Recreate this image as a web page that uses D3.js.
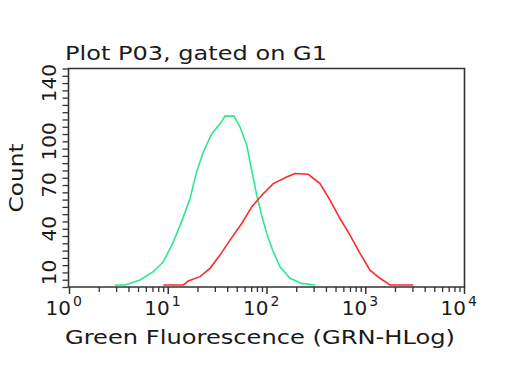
<!DOCTYPE html>
<html><head><meta charset="utf-8">
<script src="https://cdn.jsdelivr.net/npm/d3@7"></script>
<style>
body{margin:0;background:#fff;}
text{font-family:"DejaVu Sans",Verdana,sans-serif;fill:#1a1a1a;}
</style></head>
<body><svg id="c" width="512" height="384"></svg>
<script>
const title = "Plot P03, gated on G1";
const xLabel = "Green Fluorescence (GRN-HLog)";
const yLabel = "Count";
const xMajorTicks = [1, 10, 100, 1000, 10000];
const xTickExponents = ["0", "1", "2", "3", "4"];
const yTickLabels = [10, 40, 70, 100, 140];

const greenX = [2.92, 3.69, 5.24, 7.14, 9.02, 11.4, 13.8, 16.8, 19.6, 22.9, 27.9, 33.8, 38.0, 46.9, 54.0, 63.1, 70.9, 79.6, 89.4, 100.5, 117, 137, 173, 227, 310];
const greenY = [1.4, 1.4, 4.8, 10.5, 17.3, 31, 44.7, 60.7, 79, 92.7, 105.3, 112, 117.3, 117.3, 109.8, 97.3, 80.1, 63, 49.3, 36.8, 24.2, 13.9, 6, 2.5, 1.4];
const redX = [9.02, 14.4, 16.1, 21.2, 26.8, 33.8, 42.7, 56.1, 70.9, 89.4, 117, 160, 194, 265, 348, 440, 555, 701, 885, 1117, 1409, 1782, 3069];
const redY = [1.4, 1.4, 4.1, 7.1, 12.8, 21.9, 32.2, 43.6, 55, 63, 71, 75.5, 77.9, 77.4, 71, 59.6, 47, 35.6, 23.1, 11.6, 6, 1.4, 1.4];

const svg = d3.select("#c");
const L = 68.5, R = 464.5, T = 68.5, B = 287;
const x = d3.scaleLog().domain([1, 1e4]).range([69, 464]);
const y = d3.scaleLinear().domain([0, 150]).range([B, T]);

// minor x ticks
const minor = [];
for (let d = 1; d < 1e4; d *= 10) for (let k = 2; k <= 9; k++) minor.push(d * k);
const gxm = svg.append("g").attr("transform", `translate(0,${B})`)
  .call(d3.axisBottom(x).tickValues(minor).tickSize(5).tickFormat(() => ""));
gxm.select(".domain").remove();
gxm.selectAll("line").attr("stroke", "#333").attr("stroke-width", 1.3);
const gx = svg.append("g").attr("transform", `translate(0,${B})`)
  .call(d3.axisBottom(x).tickValues(xMajorTicks).tickSize(7).tickFormat(() => ""));
gx.select(".domain").remove();
gx.selectAll("line").attr("stroke", "#333").attr("stroke-width", 1.5);

xMajorTicks.forEach((v, i) => {
  svg.append("text").attr("x", x(v) + 2).attr("y", 315)
    .attr("text-anchor", "end").style("font-size", "20px").text("10");
  svg.append("text").attr("x", x(v) + 4).attr("y", 306)
    .style("font-size", "14px").text(xTickExponents[i]);
});

// y ticks
const gy = svg.append("g").attr("transform", `translate(${L},0)`)
  .call(d3.axisLeft(y).tickValues(d3.range(0, 151, 5)).tickSize(6).tickFormat(() => ""));
gy.select(".domain").remove();
gy.selectAll("line").attr("stroke", "#333").attr("stroke-width", 1.3);

yTickLabels.forEach(v => {
  svg.append("text").attr("transform", `translate(56,${y(v)}) rotate(-90)`)
    .attr("text-anchor", "middle").style("font-size", "20px").text(v);
});

// frame
svg.append("path")
  .attr("d", `M${L},${B} V${T} H${R} V${B} H${L}`)
  .attr("fill", "none").attr("stroke", "#333").attr("stroke-width", 1.6);

// curves
const line = d3.line().x(d => x(d[0])).y(d => y(d[1]));
svg.append("path").datum(greenX.map((v, i) => [v, greenY[i]]))
  .attr("d", line).attr("fill", "none").attr("stroke", "#2ee88c").attr("stroke-width", 1.6);
svg.append("path").datum(redX.map((v, i) => [v, redY[i]]))
  .attr("d", line).attr("fill", "none").attr("stroke", "#ff2a2a").attr("stroke-width", 1.6);

// texts
svg.append("text").attr("x", 65).attr("y", 60).style("font-size", "20px")
  .attr("textLength", 262).attr("lengthAdjust", "spacingAndGlyphs").text(title);
svg.append("text").attr("x", 65).attr("y", 344).style("font-size", "19px")
  .attr("textLength", 390).attr("lengthAdjust", "spacingAndGlyphs").text(xLabel);
svg.append("text").attr("transform", "translate(23,143.5) rotate(-90)")
  .attr("text-anchor", "end").style("font-size", "20px")
  .attr("textLength", 69).attr("lengthAdjust", "spacingAndGlyphs").text(yLabel);
</script></body></html>
